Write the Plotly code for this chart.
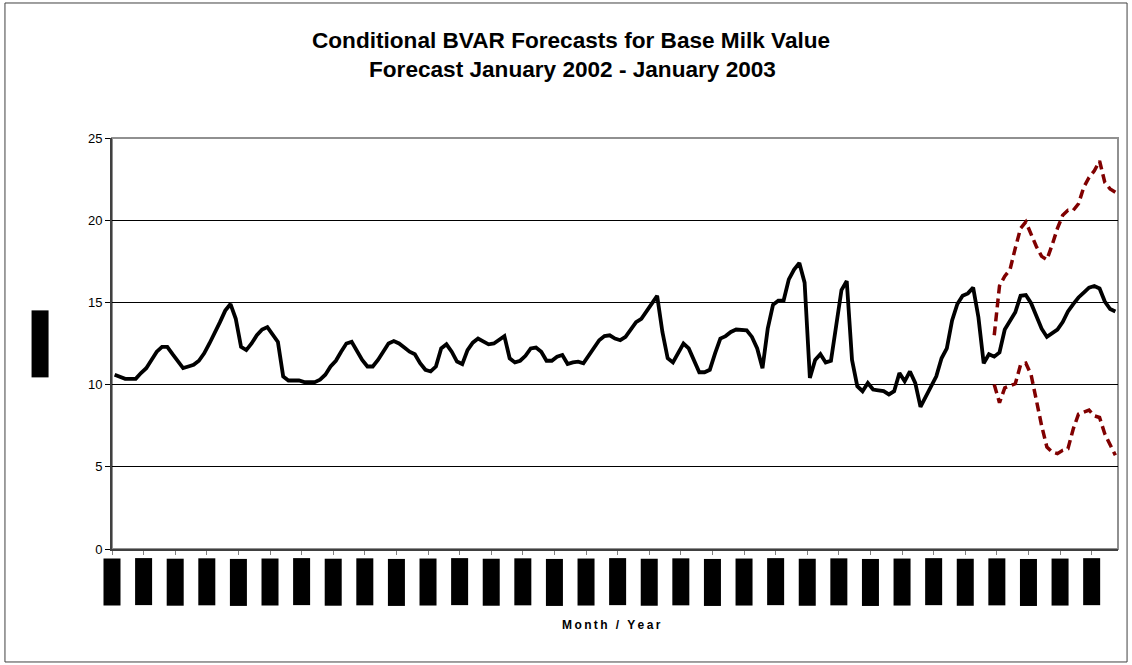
"""
Conditional BVAR forecasts for base milk value - Plotly
"""

import plotly.graph_objects as go
import pandas as pd

# Série histórica mensal + previsão (valor médio)
base_milk = [
    10.6, 10.5, 10.35, 10.35, 10.35, 10.7, 11.0, 11.5, 12.0, 12.3,
    12.3, 11.85, 11.4, 11.0, 11.1, 11.2, 11.45, 11.9, 12.5, 13.1,
    13.8, 14.5, 14.9, 14.0, 12.3, 12.1, 12.5, 13.0, 13.35, 13.5,
    13.05, 12.6, 10.5, 10.25, 10.25, 10.25, 10.15, 10.15, 10.15, 10.3,
    10.6, 11.1, 11.45, 12.0, 12.5, 12.6, 12.05, 11.5, 11.1, 11.1,
    11.5, 12.0, 12.5, 12.65, 12.5, 12.25, 12.0, 11.85, 11.3, 10.9,
    10.8, 11.1, 12.2, 12.45, 12.0, 11.4, 11.25, 12.1, 12.55, 12.8,
    12.6, 12.45, 12.5, 12.75, 12.95, 11.6, 11.35, 11.45, 11.75, 12.2,
    12.25, 12.0, 11.45, 11.45, 11.7, 11.8, 11.25, 11.35, 11.4, 11.3,
    11.8, 12.3, 12.7, 12.95, 13.0, 12.8, 12.7, 12.9, 13.35, 13.8,
    14.0, 14.5, 14.9, 15.4, 13.2, 11.6, 11.35, 11.9, 12.5, 12.2,
    11.45, 10.75, 10.75, 10.9, 11.9, 12.8, 12.95, 13.2, 13.35, 13.35,
    13.3, 12.9, 12.2, 11.0, 13.4, 14.85, 15.1, 15.1, 16.4, 17.0,
    17.4, 16.2, 10.4, 11.5, 11.85, 11.35, 11.45, 13.6, 15.75, 16.3,
    11.5, 9.9, 9.6, 10.1, 9.7, 9.65, 9.6, 9.4, 9.6, 10.7,
    10.2, 10.8, 10.1, 8.65, 9.3, 9.9, 10.5, 11.6, 12.2, 13.9,
    14.9, 15.4, 15.55, 15.9, 14.1, 11.3, 11.85, 11.7, 11.95, 13.35,
    13.9, 14.4, 15.4, 15.45, 14.95, 14.2, 13.4, 12.9, 13.1, 13.35,
    13.8, 14.45, 14.9, 15.3, 15.6, 15.9, 16.0, 15.85, 15.05, 14.6,
    14.45,
]

# Bandas da previsão (a partir do índice forecast_start)
forecast_start = 167
upper_band = [
    13.0, 16.0, 16.6, 17.0, 18.3, 19.5, 19.9, 19.1, 18.4, 17.8,
    17.6, 18.5, 19.5, 20.3, 20.6, 20.6, 21.0, 22.0, 22.6, 23.0,
    23.6, 22.3, 21.9, 21.7,
]
lower_band = [
    10.0, 8.9, 9.8, 9.95, 10.05, 11.2, 11.3, 10.6, 9.0, 7.5,
    6.2, 5.9, 5.8, 6.0, 6.1, 7.3, 8.2, 8.3, 8.45, 8.1,
    8.0, 7.0, 6.3, 5.7,
]

month_labels = (pd.period_range("1988-02", periods=len(base_milk), freq="M")
                .strftime("%b-%y").tolist())
label_step = 6

FONT = "Liberation Sans, Arial, sans-serif"
DARK_RED = "#800000"

x_all = list(range(len(base_milk)))
x_fc = list(range(forecast_start, forecast_start + len(upper_band)))

fig = go.Figure()

# Bandas (vermelho escuro tracejado)
for band in (upper_band, lower_band):
    fig.add_trace(go.Scatter(
        x=x_fc, y=band, mode="lines",
        line=dict(color=DARK_RED, width=3.5, dash="9px,5px"),
        showlegend=False, hoverinfo="skip"
    ))

# Série principal
fig.add_trace(go.Scatter(
    x=x_all, y=base_milk, mode="lines",
    line=dict(color="black", width=3.8),
    showlegend=False
))

tick_idx = list(range(0, len(base_milk), label_step))
tickvals = [i - 0.5 for i in tick_idx]

annotations = [
    dict(text="<b>Conditional BVAR Forecasts for Base Milk Value</b>",
         xref="paper", yref="paper", x=0.456, y=1.2384,
         xanchor="center", yanchor="middle",
         showarrow=False, font=dict(family=FONT, size=22.6, color="black")),
    dict(text="<b>Forecast January 2002 - January 2003</b>",
         xref="paper", yref="paper", x=0.458, y=1.1655,
         xanchor="center", yanchor="middle",
         showarrow=False, font=dict(family=FONT, size=22.6, color="black")),
    # título do eixo x (espaçado)
    dict(text="<b>" + "\u2009".join("Month / Year") + "</b>",
         xref="paper", yref="paper", x=0.497, y=-0.185,
         xanchor="center", yanchor="middle",
         showarrow=False, font=dict(family=FONT, size=12, color="black")),
    # título do eixo y (tarjado)
    dict(text="$/cwt", xref="paper", yref="paper", x=-0.0716, y=0.499,
         xanchor="center", yanchor="middle",
         showarrow=False, textangle=-90, width=66, height=16,
         bgcolor="black", borderpad=0,
         font=dict(family=FONT, size=10, color="black")),
]

# Rótulos de mês (tarjados)
for i, tv in zip(tick_idx, tickvals):
    annotations.append(dict(
        text=month_labels[i], xref="x", yref="paper", x=tv, y=-0.0803,
        xanchor="center", yanchor="middle",
        showarrow=False, textangle=-90, width=46, height=16,
        bgcolor="black", borderpad=0,
        font=dict(family=FONT, size=10, color="black")
    ))

shapes = [
    # borda da área do gráfico
    dict(type="rect", xref="paper", yref="paper", x0=0, y0=0, x1=1, y1=1,
         line=dict(color="#909090", width=2), layer="below"),
    # borda externa
    dict(type="rect", xref="paper", yref="paper",
         x0=-0.1064, y0=-0.2749, x1=1.009, y1=1.3285,
         line=dict(color="#404040", width=1), layer="below"),
]

fig.update_layout(
    width=1132, height=665,
    margin=dict(l=112, r=14, t=138, b=116),
    paper_bgcolor="white", plot_bgcolor="white",
    font=dict(family=FONT, size=12, color="black"),
    annotations=annotations,
    shapes=shapes,
    xaxis=dict(
        range=[-0.5, len(base_milk) - 0.5],
        tickmode="array", tickvals=tickvals, showticklabels=False,
        ticks="outside", ticklen=4, tickcolor="#808080", tickwidth=1,
        showgrid=False, zeroline=False,
        showline=True, linecolor="#404040", linewidth=2,
    ),
    yaxis=dict(
        range=[0, 25], dtick=5,
        ticks="outside", ticklen=5, tickcolor="black", tickwidth=1,
        tickfont=dict(family=FONT, size=13, color="black"),
        showgrid=True, gridcolor="black", gridwidth=1,
        zeroline=False,
        showline=True, linecolor="#404040", linewidth=2,
    ),
)

# sem margem no body, a figura ocupa a janela inteira
fig.write_html(
    "out.html",
    config={"displayModeBar": False},
    post_script="document.body.style.margin='0';document.body.style.overflow='hidden';",
)
